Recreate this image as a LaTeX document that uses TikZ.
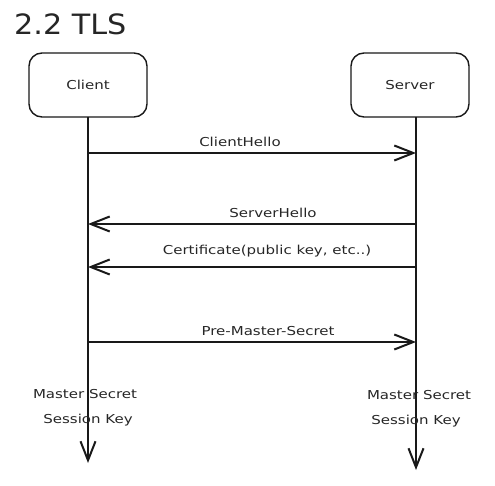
\documentclass[tikz,border=0pt]{standalone}
\usepackage{fontspec}
\setmainfont{DejaVu Sans}
\newfontfamily\lblfont[FakeStretch=1.22]{DejaVu Sans}
\newfontfamily\ttlfont[FakeStretch=1.08]{DejaVu Sans}
\usetikzlibrary{arrows.meta}
\tikzset{
  actor/.style={draw=black!90, line width=1.4pt, rounded corners=13pt, minimum width=118pt, minimum height=64pt, inner sep=0pt, font=\lblfont\fontsize{12.3}{14}\selectfont, text=black!85},
  life/.style={line width=2pt, draw=black!90},
  msg/.style={line width=2pt, draw=black!90, -{Straight Barb[length=19pt,width=15pt,line width=2pt]}},
  lbl/.style={font=\lblfont\fontsize{12.3}{14}\selectfont, text=black!85, inner sep=0pt},
  ttl/.style={font=\ttlfont\fontsize{28}{30}\selectfont, text=black!85, inner sep=0pt}
}
\begin{document}
\begin{tikzpicture}[x=1pt,y=-1pt]
\useasboundingbox (0,0) rectangle (495,486);
\node[ttl, anchor=west] (title) at (14,24) {2.2 TLS};
\node[actor] (client) at (88,85) {Client};
\node[actor] (server) at (410,85) {Server};
% lifeline coordinates
\coordinate (ctop) at (88,117);
\coordinate (cend) at (88,463);
\coordinate (stop) at (416,117);
\coordinate (send) at (416,470);
\coordinate (c1) at (88,153); \coordinate (s1) at (416,153);
\coordinate (c2) at (88,224); \coordinate (s2) at (416,224);
\coordinate (c3) at (88,267); \coordinate (s3) at (416,267);
\coordinate (c4) at (88,342); \coordinate (s4) at (416,342);
\draw[life, -{Straight Barb[length=19pt,width=15pt,line width=2pt]}] (ctop) -- (cend);
\draw[life, -{Straight Barb[length=19pt,width=15pt,line width=2pt]}] (stop) -- (send);
\draw[msg] (c1) -- (s1);
\draw[msg] (s2) -- (c2);
\draw[msg] (s3) -- (c3);
\draw[msg] (c4) -- (s4);
\node[lbl] (l1) at (240,142) {ClientHello};
\node[lbl] (l2) at (273,213) {ServerHello};
\node[lbl] (l3) at (267,251) {Certificate(public key, etc..)};
\node[lbl] (l4) at (268,331) {Pre-Master-Secret};
\node[lbl] (cm) at (85,394) {Master Secret};
\node[lbl] (ck) at (88,420) {Session Key};
\node[lbl] (sm) at (419,395) {Master Secret};
\node[lbl] (sk) at (416,421) {Session Key};
\end{tikzpicture}
\end{document}
